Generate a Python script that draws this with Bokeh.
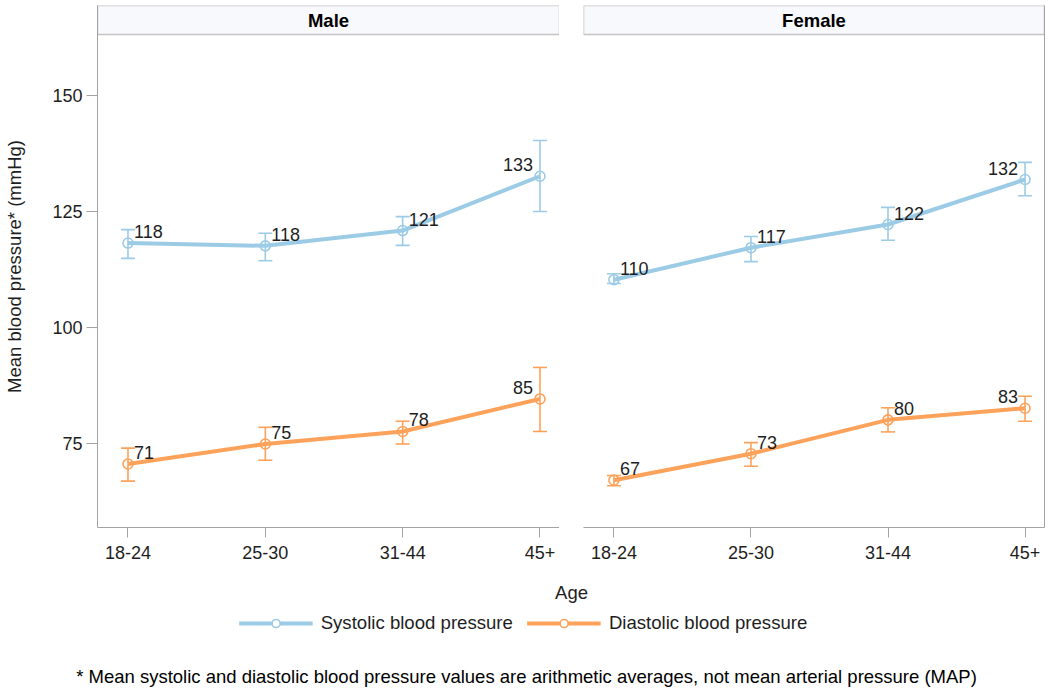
from bokeh.plotting import figure
from bokeh.layouts import column, row
from bokeh.models import (Range1d, ColumnDataSource, Whisker, TeeHead, LinearAxis,
                          FixedTicker, Legend, LegendItem)
from bokeh.embed import file_html
from bokeh.resources import INLINE
from bokeh.core.properties import value

# ---------------- data ----------------
age_groups = ["18-24", "25-30", "31-44", "45+"]
sexes = ["Male", "Female"]

male_sys_mean = [118.2, 117.6, 120.9, 132.6]
male_sys_lo = [114.9, 114.4, 117.7, 125.0]
male_sys_hi = [121.1, 120.3, 123.9, 140.3]
male_dia_mean = [70.6, 74.9, 77.6, 84.6]
male_dia_lo = [66.9, 71.4, 74.9, 77.6]
male_dia_hi = [74.0, 78.5, 79.8, 91.4]

female_sys_mean = [110.3, 117.2, 122.2, 131.9]
female_sys_lo = [109.5, 114.2, 118.8, 128.4]
female_sys_hi = [111.6, 119.6, 125.9, 135.6]
female_dia_mean = [67.1, 72.8, 80.1, 82.6]
female_dia_lo = [65.9, 70.1, 77.5, 79.8]
female_dia_hi = [68.1, 75.2, 82.7, 85.2]

y_ticks = [75, 100, 125, 150]
series_names = ["Systolic blood pressure", "Diastolic blood pressure"]

# ---------------- style ----------------
FONT = "Liberation Sans"
TXT = "#1e1e1e"
AX = "#a3a3a3"
C_SYS = "#9ccbe5"
C_DIA = "#fda25a"
FS = "18px"

Y_MIN, Y_DATA_MAX, Y_TOP = 56.9, 163.15, 169.4
X_MIN, X_MAX = -0.222, 3.142

data = {
    "Male": [(male_sys_mean, male_sys_lo, male_sys_hi, C_SYS),
             (male_dia_mean, male_dia_lo, male_dia_hi, C_DIA)],
    "Female": [(female_sys_mean, female_sys_lo, female_sys_hi, C_SYS),
               (female_dia_mean, female_dia_lo, female_dia_hi, C_DIA)],
}

PANEL_H = 566


def make_panel(sex, left):
    kw = dict(x_range=Range1d(X_MIN, X_MAX), y_range=Range1d(Y_MIN, Y_TOP),
              output_backend="svg", toolbar_location=None,
              min_border_top=5, min_border_bottom=39)
    if left:
        p = figure(width=559, height=PANEL_H, min_border_left=97, min_border_right=0, **kw)
    else:
        p = figure(width=487, height=PANEL_H, min_border_left=24, min_border_right=2,
                   y_axis_location=None, **kw)
    p.outline_line_color = None
    p.xgrid.visible = False
    p.ygrid.visible = False
    p.background_fill_color = "white"
    p.border_fill_color = "white"

    # x axis
    xa = p.xaxis[0]
    xa.ticker = FixedTicker(ticks=list(range(len(age_groups))))
    xa.major_label_overrides = {i: a for i, a in enumerate(age_groups)}
    xa.axis_line_color = AX
    xa.major_tick_line_color = AX
    xa.major_tick_out = 10
    xa.major_tick_in = 0
    xa.minor_tick_line_color = None
    xa.major_label_standoff = 8
    xa.major_label_text_font = FONT
    xa.major_label_text_font_size = FS
    xa.major_label_text_color = TXT

    if left:
        ya = p.yaxis[0]
        ya.ticker = FixedTicker(ticks=y_ticks)
        ya.axis_line_color = AX
        ya.major_tick_line_color = AX
        ya.major_tick_out = 11
        ya.major_tick_in = 0
        ya.minor_tick_line_color = None
        ya.major_label_standoff = 4
        ya.major_label_text_font = FONT
        ya.major_label_text_font_size = FS
        ya.major_label_text_color = TXT
        ya.axis_label = "Mean blood pressure* (mmHg)"
        ya.axis_label_text_font = FONT
        ya.axis_label_text_font_size = "18.5px"
        ya.axis_label_text_font_style = "normal"
        ya.axis_label_text_color = TXT
        ya.axis_label_standoff = 24
    else:
        ra = LinearAxis(ticker=FixedTicker(ticks=[]), axis_line_color=AX,
                        major_tick_line_color=None, minor_tick_line_color=None,
                        major_label_text_font_size="0px")
        p.add_layout(ra, "right")

    # header strip
    p.quad(left=[X_MIN], right=[X_MAX], bottom=[Y_DATA_MAX], top=[Y_TOP],
           fill_color="#f8f9fd", line_color="#c4c4c4", line_width=1.5)
    p.text(x=[(X_MIN + X_MAX) / 2], y=[(Y_DATA_MAX + Y_TOP) / 2], text=[sex],
           text_font=value(FONT), text_font_size="18.5px", text_font_style="bold",
           text_align="center", text_baseline="middle", text_color="black")

    xs = list(range(len(age_groups)))
    for mean, lo, hi, col in data[sex]:
        src = ColumnDataSource(dict(x=xs, mean=mean, lo=lo, hi=hi,
                                    lab=[str(int(round(v))) for v in mean],
                                    align=["left", "left", "left", "right"],
                                    dx=[6, 6, 6, -7]))
        w = Whisker(source=src, base="x", upper="hi", lower="lo", dimension="height",
                    line_color=col, line_width=1.6, level="underlay",
                    upper_head=TeeHead(size=14, line_color=col, line_width=1.6),
                    lower_head=TeeHead(size=14, line_color=col, line_width=1.6))
        p.add_layout(w)
        p.line("x", "mean", source=src, line_color=col, line_width=4)
        p.scatter("x", "mean", source=src, marker="circle", size=10, line_color=col,
                  line_width=1.6, fill_alpha=0)
        p.text("x", "mean", text="lab", source=src, x_offset="dx", y_offset=-5,
               text_align="align", text_baseline="bottom", text_font=value(FONT),
               text_font_size=FS, text_color=TXT)
    return p


p_male = make_panel("Male", True)
p_female = make_panel("Female", False)

# ---------------- bottom area: axis title, legend, footnote ----------------
BW, BH = 1046, 694 - PANEL_H
pb = figure(width=BW, height=BH, x_range=Range1d(0, BW), y_range=Range1d(BH, 0),
            output_backend="svg", toolbar_location=None,
            min_border=0, x_axis_location=None, y_axis_location=None)
pb.outline_line_color = None
pb.xgrid.visible = False
pb.ygrid.visible = False

pb.text(x=[571], y=[26], text=["Age"], text_font=value(FONT), text_font_size="18.5px",
        text_align="center", text_baseline="middle", text_color=TXT)
pb.text(x=[526], y=[110],
        text=["* Mean systolic and diastolic blood pressure values are arithmetic averages, not mean arterial pressure (MAP)"],
        text_font=value(FONT), text_font_size="18.5px", text_align="center",
        text_baseline="middle", text_color="black")

items = []
for name, col in zip(series_names, [C_SYS, C_DIA]):
    # legend-only renderers, placed outside the visible area
    rl = pb.line(x=[-60, -50], y=[-60, -60], line_color=col, line_width=4)
    rs = pb.scatter(x=[-55], y=[-60], marker="circle", size=12, line_color=col,
                    line_width=1.6, fill_color="white")
    items.append(LegendItem(label=name, renderers=[rl, rs]))

leg = Legend(items=items, orientation="horizontal", location="top_center",
             margin=46, padding=0, spacing=14, label_standoff=8,
             glyph_width=74, glyph_height=20, label_height=20,
             border_line_color=None, background_fill_alpha=0,
             label_text_font=FONT, label_text_font_size="18.6px", label_text_color=TXT)
pb.add_layout(leg, "center")

layout = column(row(p_male, p_female, spacing=0), pb, spacing=0)

with open("out.html", "w") as f:
    f.write(file_html(layout, INLINE))
